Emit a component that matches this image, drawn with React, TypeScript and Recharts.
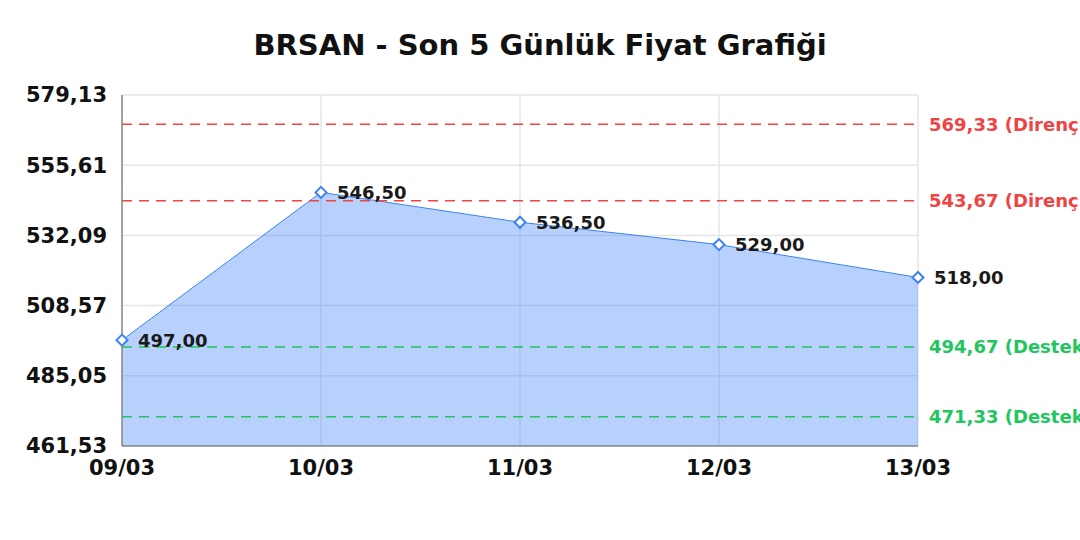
import {
    AreaChart,
    Area,
    XAxis,
    YAxis,
    CartesianGrid,
    ReferenceLine,
} from "recharts";

// ── Data ──────────────────────────────────────────────────────────────────────
const dates = ["09/03", "10/03", "11/03", "12/03", "13/03"];
const prices = [497.0, 546.5, 536.5, 529.0, 518.0];
const yTicks = [461.53, 485.05, 508.57, 532.09, 555.61, 579.13];
const resistance = [569.33, 543.67];
const support = [494.67, 471.33];

const data = dates.map((date, i) => ({ date, price: prices[i] }));

const FONT = "DejaVu Sans";
const BLUE = "#3b82f6";
const RED = "#ef4444";
const GREEN = "#22c55e";

const fmt = (v: number) => v.toFixed(2).replace(".", ",");

// ── Markers / labels ──────────────────────────────────────────────────────────
function Diamond(props: any) {
    const { cx, cy, index } = props;
    if (cx == null || cy == null) return null;
    const r = 5.5;
    return (
        <polygon
            key={`d-${index}`}
            points={`${cx},${cy - r} ${cx + r},${cy} ${cx},${cy + r} ${cx - r},${cy}`}
            fill="#fff"
            stroke={BLUE}
            strokeWidth={2}
        />
    );
}

function PriceLabel(props: any) {
    const { x, y, value } = props;
    return (
        <text
            x={x + 16}
            y={y + 1.5}
            dominantBaseline="middle"
            fontFamily={FONT}
            fontSize={18}
            fontWeight="bold"
            fill="#1a1a1a"
        >
            {fmt(value)}
        </text>
    );
}

const tickStyle = { fontSize: 21, fontWeight: "bold", fill: "#111", fontFamily: FONT };

// ── Component ─────────────────────────────────────────────────────────────────
export default function App() {
    return (
        <div style={{ position: "absolute", left: 0, top: 0, width: 1080, height: 540, background: "#fff" }}>
            <div
                style={{
                    position: "absolute",
                    top: 31,
                    left: 0,
                    width: 1080,
                    textAlign: "center",
                    fontFamily: FONT,
                    fontWeight: "bold",
                    fontSize: 29,
                    lineHeight: "29px",
                    color: "#111",
                }}
            >
                BRSAN - Son 5 Günlük Fiyat Grafiği
            </div>
            <AreaChart
                width={1080}
                height={540}
                data={data}
                margin={{ top: 95, right: 162, bottom: 0, left: 0 }}
            >
                <CartesianGrid stroke="#e6e6e6" strokeWidth={1.5} />
                <XAxis
                    dataKey="date"
                    height={94}
                    tickLine={false}
                    tickSize={6}
                    tickMargin={8}
                    stroke="#888"
                    strokeWidth={1.5}
                    tick={tickStyle}
                />
                <YAxis
                    width={122}
                    domain={[yTicks[0], yTicks[yTicks.length - 1]]}
                    ticks={yTicks}
                    tickFormatter={fmt}
                    tickLine={false}
                    tickSize={6}
                    tickMargin={9}
                    stroke="#888"
                    strokeWidth={1.5}
                    tick={tickStyle}
                />
                <Area
                    type="linear"
                    dataKey="price"
                    stroke={BLUE}
                    strokeWidth={1}
                    fill={BLUE}
                    fillOpacity={0.37}
                    dot={<Diamond />}
                    activeDot={false}
                    label={<PriceLabel />}
                    isAnimationActive={false}
                />
                {resistance.map((v) => (
                    <ReferenceLine
                        key={`r-${v}`}
                        y={v}
                        stroke={RED}
                        strokeWidth={1.5}
                        strokeDasharray="10 7"
                        label={{
                            value: `${fmt(v)} (Direnç)`,
                            position: "right",
                            offset: 11,
                            fill: RED,
                            fontSize: 18,
                            fontWeight: "bold",
                            fontFamily: FONT,
                        }}
                    />
                ))}
                {support.map((v) => (
                    <ReferenceLine
                        key={`s-${v}`}
                        y={v}
                        stroke={GREEN}
                        strokeWidth={1.5}
                        strokeDasharray="10 7"
                        label={{
                            value: `${fmt(v)} (Destek)`,
                            position: "right",
                            offset: 11,
                            fill: GREEN,
                            fontSize: 18,
                            fontWeight: "bold",
                            fontFamily: FONT,
                        }}
                    />
                ))}
            </AreaChart>
        </div>
    );
}
